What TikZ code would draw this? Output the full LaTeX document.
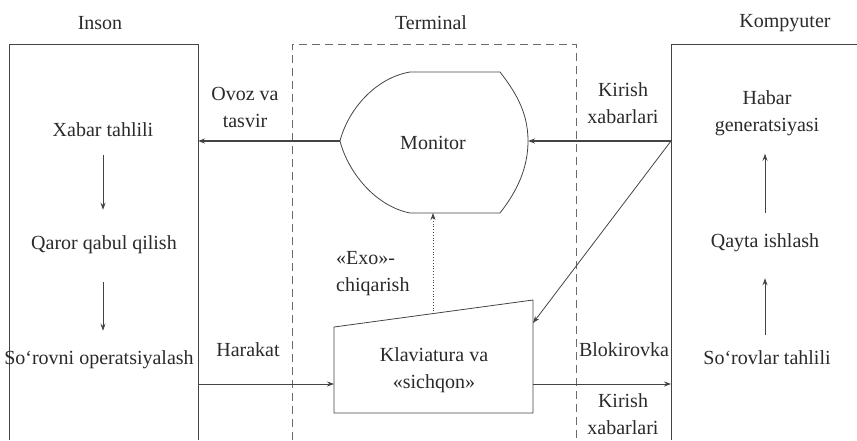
\documentclass[tikz,border=0pt]{standalone}
\usepackage{fontspec}
\setmainfont{Liberation Serif}
\usepackage{tikz}
\usetikzlibrary{arrows.meta, positioning}
\definecolor{ISTtext}{HTML}{2A2A2A}
\definecolor{ISTline}{HTML}{444444}
\definecolor{ISTdash}{HTML}{6A6A6A}

\begin{document}
\begin{tikzpicture}[x=1pt, y=-1pt]
  \tikzset{
    lbl/.style={text=ISTtext, font=\fontsize{20}{27}\selectfont, align=center, inner sep=0pt},
    blk/.style={draw=ISTline, line width=0.8pt},
    termbox/.style={draw=ISTdash, line width=0.7pt, dash pattern=on 8pt off 5pt},
    flow/.style={-{Stealth[length=7pt, width=5pt]}, draw=ISTline, line width=0.8pt},
    flowbold/.style={flow, line width=1.3pt},
  }
  \useasboundingbox (0,0) rectangle (857,440);

  % Column titles
  \node[lbl] (inson) at (100,23) {Inson};
  \node[lbl] (terminal) at (431,23) {Terminal};
  \node[lbl] (kompyuter) at (785,23) {Kompyuter};

  % Outer frames (open at the bottom)
  \draw[blk] (9,440) -- (9,44) -- (198,44) -- (198,440);
  \draw[blk] (671,440) -- (671,44) -- (857,44);
  \draw[termbox] (292,440) -- (292,44) -- (576,44) -- (576,440);

  % Inson
  \node[lbl] (xabar) at (103,130) {Xabar tahlili};
  \node[lbl] (qaror) at (104,245) {Qaror qabul qilish};
  \node[lbl] (sorov) at (99,360) {So‘rovni operatsiyalash};
  \draw[flow, shorten <=18pt, shorten >=26pt] (xabar.south) -- (xabar.south |- qaror.north);
  \draw[flow, shorten <=28pt, shorten >=20pt] (qaror.south -| xabar.south) -- (xabar.south |- sorov.north);

  % Kompyuter
  \node[lbl] (habar) at (767,113) {Habar\\generatsiyasi};
  \node[lbl] (qayta) at (765,243) {Qayta ishlash};
  \node[lbl] (sorovlar) at (767,358) {So‘rovlar tahlili};
  \draw[flow, shorten <=16pt, shorten >=26pt] (sorovlar.north -| qayta) -- (qayta.south);
  \draw[flow, shorten <=21pt, shorten >=18pt] (qayta.north) -- (qayta.north |- habar.south);

  % Monitor
  \draw[blk] (410,72) -- (500,72)
    .. controls (518,95) and (528,115) .. (528,141)
    .. controls (528,167) and (518,190) .. (500,213)
    -- (410,213)
    .. controls (375,206) and (348,172) .. (340,141)
    .. controls (348,110) and (375,78) .. (410,72) -- cycle;
  \node[lbl] (monitor) at (433,143) {Monitor};
  \coordinate (monL) at (340,141);
  \coordinate (monR) at (528,141);
  \coordinate (monB) at (433,213);

  % Klaviatura
  \draw[blk] (334,327) -- (533,300) -- (533,413) -- (334,413) -- cycle;
  \node[lbl] (klav) at (434,370) {Klaviatura va\\«sichqon»};
  \coordinate (klavL) at (334,384);
  \coordinate (klavR) at (533,384);
  \coordinate (klavT) at (433,314);
  \coordinate (klavRin) at (533,323);

  % Frame ports
  \coordinate (insonT) at (198,141);
  \coordinate (insonB) at (198,384);
  \coordinate (kompT) at (671,141);
  \coordinate (kompB) at (671,384);

  % Connectors
  \draw[flowbold] (kompT) -- (monR);
  \draw[flowbold] (monL) -- (insonT);
  \draw[flow] (kompT) -- (klavRin);
  \draw[flow, dotted] (klavT) -- (monB);
  \draw[flow] (insonB) -- (klavL);
  \draw[flow] (klavR) -- (kompB);

  % Connector labels
  \node[lbl] (ovoz) at (245,107) {Ovoz va\\tasvir};
  \node[lbl] (kirish1) at (623,103) {Kirish\\xabarlari};
  \node[lbl, align=left, anchor=west] (exo) at (336,274) {«Exo»-\\chiqarish};
  \node[lbl] (harakat) at (248,350) {Harakat};
  \node[lbl] (blok) at (624,350) {Blokirovka};
  \node[lbl] (kirish2) at (623,414) {Kirish\\xabarlari};
\end{tikzpicture}
\end{document}
